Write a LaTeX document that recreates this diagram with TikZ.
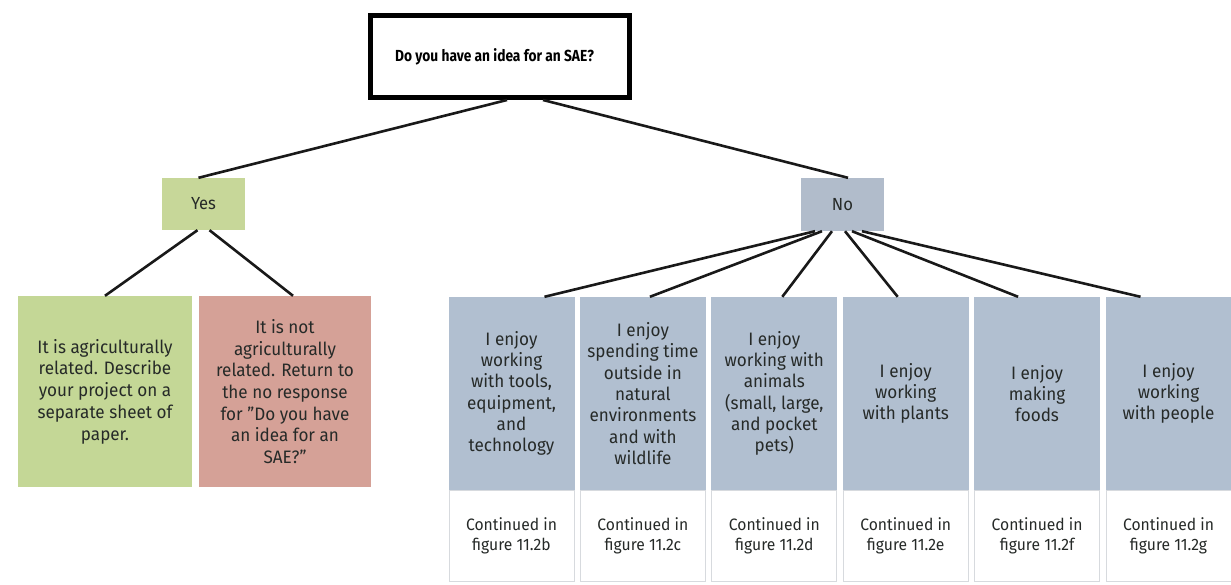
\documentclass[tikz,border=0pt]{standalone}
\usepackage{fontspec}
\setmainfont[FakeStretch=0.95]{Fira Sans}
\newfontfamily\titlefont[FakeStretch=0.86]{Fira Sans}
\usetikzlibrary{calc}
\definecolor{txt}{RGB}{38,42,40}
\definecolor{yesgreen}{RGB}{199,215,153}
\definecolor{agrigreen}{RGB}{196,215,150}
\definecolor{notred}{RGB}{213,161,151}
\definecolor{nogrey}{RGB}{177,188,203}
\definecolor{enjoyblue}{RGB}{177,191,208}
\definecolor{contborder}{RGB}{215,218,222}
\tikzset{
  conn/.style={line width=2.6pt, draw=black!90},
  smallbox/.style={minimum width=83pt, minimum height=52pt, inner sep=0pt, font=\fontsize{17.5}{20}\selectfont, text=txt},
  bigbox/.style={minimum height=191pt, inner sep=0pt, align=center, font=\fontsize{18}{21.7}\selectfont, text=txt},
  enjoybox/.style={fill=enjoyblue, minimum width=126pt, minimum height=193pt, inner sep=0pt, align=center, font=\fontsize{18}{21.3}\selectfont, text=txt},
  contbox/.style={draw=contborder, line width=0.8pt, fill=white, minimum width=125pt, minimum height=91pt, inner sep=0pt, align=center, font=\fontsize{16.5}{19.5}\selectfont, text=txt}
}
\begin{document}
\begin{tikzpicture}[x=1pt,y=-1pt]
\useasboundingbox (0,0) rectangle (1231,585);
\fill[white] (0,0) rectangle (1231,585);

\node[draw=black, line width=5pt, minimum width=259pt, minimum height=82pt, inner sep=0pt, font=\titlefont\bfseries\fontsize{16}{19}\selectfont, text=black] (top) at (500,56.5) {\hspace*{-11pt}Do you have an idea for an SAE?};

\node[smallbox, fill=yesgreen] (yes) at (203.5,204) {Yes};
\node[smallbox, fill=nogrey, minimum height=53pt] (no) at (842.5,204.5) {No};

\node[bigbox, fill=agrigreen, minimum width=174pt] (agri) at (105,391.5) {It is agriculturally\\related. Describe\\your project on a\\separate sheet of\\paper.};
\node[bigbox, fill=notred, minimum width=172pt] (notagri) at (285,391.5) {It is not\\agriculturally\\related. Return to\\the no response\\for ''Do you have\\an idea for an\\SAE?''};

\foreach \i/\t/\c/\s/\e in {
  1/{I enjoy\\working\\with tools,\\equipment,\\and\\technology}/b/-27.5/33,
  2/{I enjoy\\spending time\\outside in\\natural\\environments\\and with\\wildlife}/c/-20.5/7,
  3/{I enjoy\\working with\\animals\\(small, large,\\and pocket\\pets)}/d/-10.5/8,
  4/{I enjoy\\working\\with plants}/e/2.5/-8,
  5/{I enjoy\\making\\foods}/f/9.5/-19,
  6/{I enjoy\\working\\with people}/g/19.5/-28}{
  \pgfmathsetmacro{\cx}{449+62.5+131.4*(\i-1)}
  \node[enjoybox] (enj\i) at (\cx,393.5) {\t};
  \node[contbox] (cont\i) at (\cx,536) {Continued in\\figure 11.2\c};
  \draw[conn] ([xshift=\s pt]no.south) -- ([xshift=\e pt]enj\i.north);
}

\draw[conn] ([xshift=7pt]top.south) -- ([xshift=-5pt]yes.north);
\draw[conn] ([xshift=43pt]top.south) -- ([xshift=5.5pt]no.north);
\draw[conn] ([xshift=-6pt]yes.south) -- (agri.north);
\draw[conn] ([xshift=6pt]yes.south) -- ([xshift=8pt]notagri.north);
\end{tikzpicture}
\end{document}
